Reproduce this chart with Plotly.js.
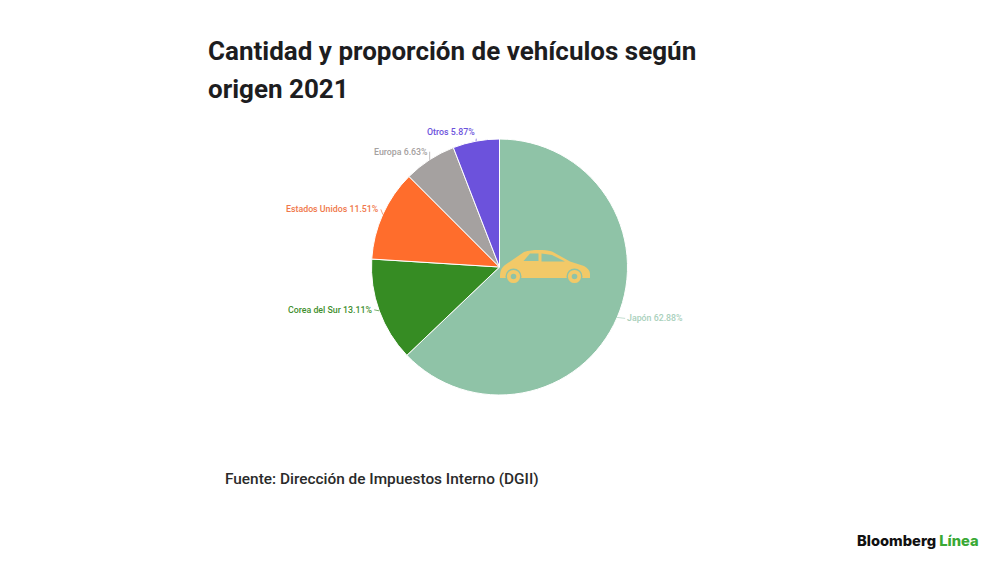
<!DOCTYPE html>
<html>
<head>
<meta charset="utf-8">
<script src="https://cdn.plot.ly/plotly-3.0.1.min.js"></script>
<style>
  body { margin: 0; background: #fff; }
  #chart { width: 1000px; height: 562px; }
</style>
</head>
<body>
<div id="chart"></div>
<script>
// data
const origins = ['Japón', 'Corea del Sur', 'Estados Unidos', 'Europa', 'Otros'];
const shares = [62.88, 13.11, 11.51, 6.63, 5.87];
const sliceColors = ['#8fc3a7', '#368c23', '#ff6d2c', '#a5a1a0', '#6c52dc'];
const labelColors = ['#a9d0bb', '#3f8f2e', '#f0774a', '#a5a1a0', '#6c52dc'];

const W = 1000, H = 562;
const cx = 499.5, cy = 267, R = 128;

// leader line offset of each label from the edge of its slice (px)
const labelDx = [8, -5, -2, 0, 1];
const labelDy = [1, -1, -5, -8, -9];

const car = "<svg xmlns='http://www.w3.org/2000/svg' viewBox='0 0 90 34'>" +
  "<path fill='#f2c968' fill-rule='evenodd' d='M0 27 C0 22 1 18 5 15 L24 2 C32 -0.5 44 -0.5 52 1.5 L70 11.5 L84 16 C88 18 90 21 90 24 L90 28 L0 28 Z " +
  "M23.5 11 L38.5 11 L38.5 3.5 L30 3.5 Z M41.5 3.5 L41.5 11.5 L65 11.5 L52 5 Z'/>" +
  "<circle cx='13.5' cy='26.5' r='8' fill='#8fc3a7'/><circle cx='74.5' cy='26.5' r='8' fill='#8fc3a7'/>" +
  "<circle cx='13.5' cy='26.5' r='4.7' fill='none' stroke='#f2c968' stroke-width='3.8'/>" +
  "<circle cx='74.5' cy='26.5' r='4.7' fill='none' stroke='#f2c968' stroke-width='3.8'/>" +
  "</svg>";

const trace = {
  type: 'pie',
  labels: origins,
  values: shares,
  sort: false,
  direction: 'clockwise',
  rotation: 0,
  textinfo: 'none',
  marker: { colors: sliceColors, line: { color: '#ffffff', width: 1 } },
  domain: { x: [(cx - R) / W, (cx + R) / W], y: [1 - (cy + R) / H, 1 - (cy - R) / H] }
};

// slice labels sit at the mid angle of each slice
const total = shares.reduce((a, b) => a + b, 0);
let running = 0;
const sliceLabels = origins.map((name, i) => {
  const mid = (running + shares[i] / 2) / total * 2 * Math.PI;
  running += shares[i];
  return {
    xref: 'paper', yref: 'paper',
    x: (cx + R * Math.sin(mid)) / W,
    y: 1 - (cy - R * Math.cos(mid)) / H,
    ax: labelDx[i], ay: labelDy[i],
    xanchor: Math.sin(mid) > 0 ? 'left' : 'right',
    yanchor: 'middle',
    text: name + ' ' + shares[i].toFixed(2) + '%',
    showarrow: true, arrowhead: 0, arrowwidth: 0.7, arrowcolor: labelColors[i],
    font: { family: 'Roboto', size: 8.8, color: labelColors[i], weight: 500 }
  };
});

const layout = {
  width: W, height: H,
  margin: { l: 0, r: 0, t: 0, b: 0 },
  paper_bgcolor: '#ffffff',
  showlegend: false,
  title: {
    text: 'Cantidad y proporción de vehículos según',
    x: 208 / W, xanchor: 'left', xref: 'paper',
    y: 1 - 51 / H, yanchor: 'middle', yref: 'paper',
    font: { family: 'Roboto', size: 26, color: '#1d1d1f', weight: 700 }
  },
  annotations: sliceLabels.concat([
    { xref: 'paper', yref: 'paper', x: 206 / W, y: 1 - 89 / H, xanchor: 'left', yanchor: 'middle', showarrow: false,
      text: 'origen 2021', font: { family: 'Roboto', size: 26, color: '#1d1d1f', weight: 700 } },
    { xref: 'paper', yref: 'paper', x: 223 / W, y: 1 - 479 / H, xanchor: 'left', yanchor: 'middle', showarrow: false,
      text: 'Fuente: Dirección de Impuestos Interno (DGII)', font: { family: 'Roboto', size: 15.4, color: '#2a2a2a', weight: 500 } },
    { xref: 'paper', yref: 'paper', x: 981 / W, y: 1 - 541 / H, xanchor: 'right', yanchor: 'middle', showarrow: false,
      text: "Bloomberg <span style='color:#3aa935'>Línea</span>",
      font: { family: 'Inter', size: 14.7, color: '#111111', weight: 800 } }
  ]),
  images: [{
    source: 'data:image/svg+xml,' + encodeURIComponent(car),
    xref: 'paper', yref: 'paper', x: 500 / W, y: 1 - 250 / H,
    sizex: 90 / W, sizey: 34 / H, xanchor: 'left', yanchor: 'top', sizing: 'stretch', layer: 'above'
  }]
};

Plotly.newPlot('chart', [trace], layout, { displayModeBar: false });
</script>
</body>
</html>
